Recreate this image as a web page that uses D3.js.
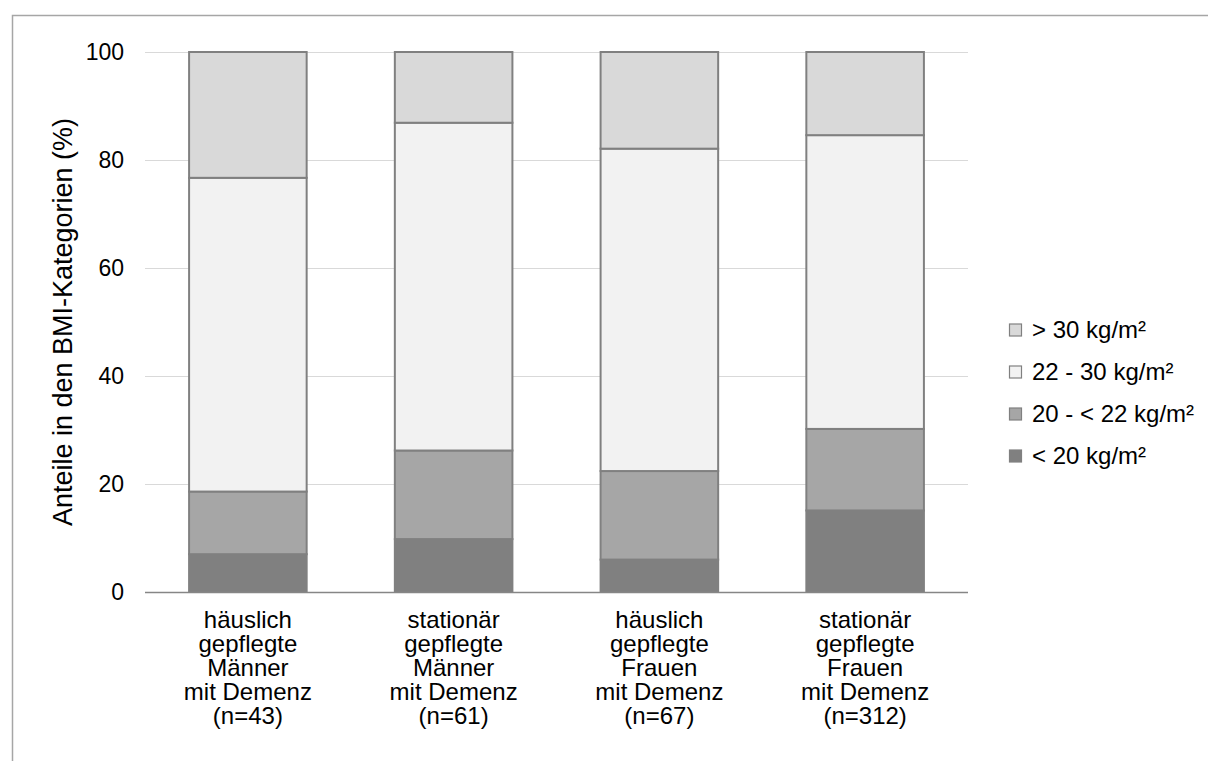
<!DOCTYPE html>
<html>
<head>
<meta charset="utf-8">
<script src="https://cdn.jsdelivr.net/npm/d3@7"></script>
<style>
  body { margin: 0; background: #fff; }
  svg { display: block; font-family: "Liberation Sans", Arial, sans-serif; }
</style>
</head>
<body>
<svg width="1208" height="761"></svg>
<script>
// categories (x axis), each label split into lines
const groups = [
  ["häuslich", "gepflegte", "Männer", "mit Demenz", "(n=43)"],
  ["stationär", "gepflegte", "Männer", "mit Demenz", "(n=61)"],
  ["häuslich", "gepflegte", "Frauen", "mit Demenz", "(n=67)"],
  ["stationär", "gepflegte", "Frauen", "mit Demenz", "(n=312)"]
];

// series, bottom to top (percent)
const seriesNames = ["< 20 kg/m²", "20 - < 22 kg/m²", "22 - 30 kg/m²", "> 30 kg/m²"];
const under20 = [7.0, 9.8, 6.0, 15.1];
const from20to22 = [11.6, 16.4, 16.4, 15.1];
const from22to30 = [58.1, 60.7, 59.7, 54.4];
const over30 = [23.3, 13.1, 17.9, 15.4];

const yTicks = [0, 20, 40, 60, 80, 100];
const colors = ["#808080", "#a6a6a6", "#f2f2f2", "#d9d9d9"];

const svg = d3.select("svg");

// outer frame (only top and left visible)
svg.append("path")
  .attr("d", "M12.5,761 L12.5,15.5 L1208,15.5")
  .attr("fill", "none")
  .attr("stroke", "#a6a6a6")
  .attr("stroke-width", 1.5);

const plot = { left: 145, right: 968, top: 52, bottom: 592 };

const xScale = d3.scaleBand()
  .domain(d3.range(groups.length))
  .range([plot.left, plot.right])
  .paddingInner(0.4286)
  .paddingOuter(0.2143);

const yScale = d3.scaleLinear()
  .domain([0, 100])
  .range([plot.bottom, plot.top]);

// grid lines
svg.append("g")
  .selectAll("line")
  .data(yTicks.filter(d => d > 0))
  .join("line")
  .attr("x1", plot.left).attr("x2", plot.right)
  .attr("y1", d => yScale(d) + 0.5).attr("y2", d => yScale(d) + 0.5)
  .attr("stroke", "#d9d9d9")
  .attr("stroke-width", 1);

// y tick labels
svg.append("g")
  .selectAll("text")
  .data(yTicks)
  .join("text")
  .attr("x", 124)
  .attr("y", d => yScale(d))
  .attr("dy", "0.35em")
  .attr("text-anchor", "end")
  .attr("font-size", 23)
  .attr("fill", "#000")
  .text(d => d);

// stack data
const rows = groups.map((g, i) => ({
  i,
  [seriesNames[0]]: under20[i],
  [seriesNames[1]]: from20to22[i],
  [seriesNames[2]]: from22to30[i],
  [seriesNames[3]]: over30[i]
}));
const stacked = d3.stack().keys(seriesNames)(rows);

svg.append("g")
  .selectAll("g")
  .data(stacked)
  .join("g")
  .attr("fill", (d, k) => colors[k])
  .selectAll("rect")
  .data(d => d)
  .join("rect")
  .attr("x", d => xScale(d.data.i))
  .attr("y", d => yScale(d[1]))
  .attr("width", xScale.bandwidth())
  .attr("height", d => yScale(d[0]) - yScale(d[1]))
  .attr("stroke", "#808080")
  .attr("stroke-width", 2);

// x axis line
svg.append("line")
  .attr("x1", plot.left).attr("x2", plot.right)
  .attr("y1", plot.bottom + 0.5).attr("y2", plot.bottom + 0.5)
  .attr("stroke", "#868686")
  .attr("stroke-width", 1.5);

// category labels
const xl = svg.append("g")
  .selectAll("text")
  .data(groups)
  .join("text")
  .attr("text-anchor", "middle")
  .attr("font-size", 24)
  .attr("fill", "#000");
xl.selectAll("tspan")
  .data((d, i) => d.map(t => ({ t, i })))
  .join("tspan")
  .attr("x", d => xScale(d.i) + xScale.bandwidth() / 2)
  .attr("y", (d, j) => 628 + j * 24)
  .text(d => d.t);

// y axis title
svg.append("text")
  .attr("transform", `translate(72,${(plot.top + plot.bottom) / 2}) rotate(-90)`)
  .attr("text-anchor", "middle")
  .attr("font-size", 27)
  .attr("fill", "#000")
  .text("Anteile in den BMI-Kategorien (%)");

// legend (top to bottom: reverse order)
const legend = svg.append("g")
  .selectAll("g")
  .data(seriesNames.map((n, k) => ({ n, k })).reverse())
  .join("g")
  .attr("transform", (d, j) => `translate(1009,${330 + j * 42})`);
legend.append("rect")
  .attr("x", 0.5).attr("y", -6)
  .attr("width", 12).attr("height", 12)
  .attr("fill", d => colors[d.k])
  .attr("stroke", "#808080")
  .attr("stroke-width", 1.2);
legend.append("text")
  .attr("x", 23)
  .attr("dy", "0.35em")
  .attr("font-size", 24)
  .attr("fill", "#000")
  .text(d => d.n);
</script>
</body>
</html>
